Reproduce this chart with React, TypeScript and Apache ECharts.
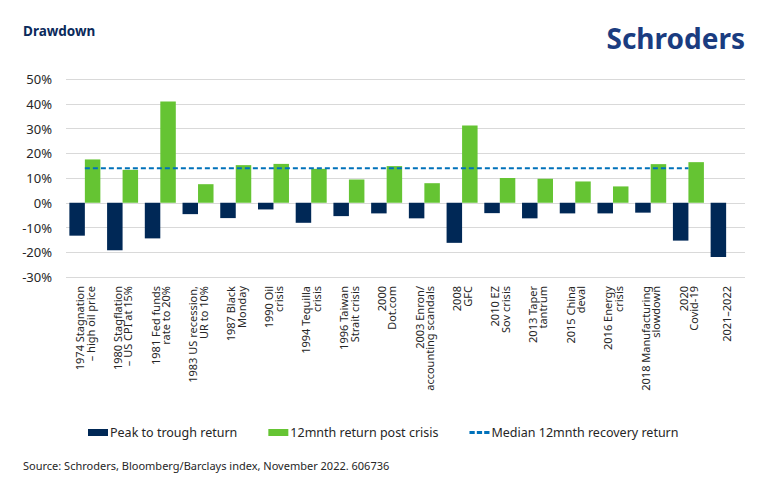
import React, { useEffect, useRef } from "react";
import * as echarts from "echarts";

const categories = [
  "1974 Stagnation\n– high oil price",
  "1980 Stagflation\n– US CPI at 15%",
  "1981 Fed funds\nrate to 20%",
  "1983 US recession,\nUR to 10%",
  "1987 Black\nMonday",
  "1990 Oil\ncrisis",
  "1994 Tequilla\ncrisis",
  "1996 Taiwan\nStrait crisis",
  "2000\nDot.com",
  "2003 Enron/\naccounting scandals",
  "2008\nGFC",
  "2010 EZ\nSov crisis",
  "2013 Taper\ntantrum",
  "2015 China\ndeval",
  "2016 Energy\ncrisis",
  "2018 Manufacturing\nslowdown",
  "2020\nCovid-19",
  "2021–2022",
];

const peakToTrough = [
  -13.3, -19.2, -14.4, -4.6, -6.2, -2.7, -8.1, -5.4, -4.3, -6.3, -16.2, -4.2,
  -6.3, -4.3, -4.3, -4.0, -15.3, -21.9,
];

const postCrisis = [
  17.5, 13.3, 40.9, 7.5, 15.2, 15.7, 13.7, 9.4, 14.8, 7.9, 31.2, 10.0, 9.7, 8.6,
  6.6, 15.6, 16.4, null,
];

const medianRecovery = [
  13.9, 13.9, 13.9, 13.9, 13.9, 13.9, 13.9, 13.9, 13.9, 13.9, 13.9, 13.9, 13.9,
  13.9, 13.9, 13.9, 13.9, null,
];

const yTicks = { min: -30, max: 50, interval: 10 };

const FONT = "'Noto Sans', 'Open Sans', sans-serif";
const NAVY = "#002856";
const GREEN = "#65C433";
const BLUE = "#0071BA";
const TEXT = "#262626";

export default function App() {
  const ref = useRef<HTMLDivElement>(null);

  useEffect(() => {
    if (!ref.current) return;
    const chart = echarts.init(ref.current, null, { renderer: "svg" });
    chart.setOption({
      animation: false,
      textStyle: { fontFamily: FONT },
      grid: { left: 66, right: 25, top: 79, bottom: 215 },
      graphic: [
        {
          type: "text",
          left: 23,
          top: 24,
          style: {
            text: "Drawdown",
            fontFamily: FONT,
            fontWeight: "bold",
            fontSize: 13.5,
            fill: "#0B2A5B",
          },
        },
        {
          type: "text",
          right: 25,
          top: 24,
          style: {
            text: "Schroders",
            fontFamily: FONT,
            fontWeight: "bold",
            fontSize: 28,
            fill: "#1A3C80",
          },
        },
        {
          type: "text",
          left: 23,
          top: 460,
          style: {
            text: "Source: Schroders, Bloomberg/Barclays index, November 2022. 606736",
            fontFamily: FONT,
            fontSize: 11,
            fill: TEXT,
          },
        },
      ],
      legend: {
        left: 83,
        top: 421,
        itemWidth: 20,
        itemHeight: 7,
        itemGap: 31,
        textStyle: { fontFamily: FONT, fontSize: 12.5, color: TEXT, padding: [0, 0, 0, -3] },
        data: [
          { name: "Peak to trough return", icon: "rect" },
          { name: "12mnth return post crisis", icon: "rect" },
          {
            name: "Median 12mnth recovery return",
            icon: "path://M0,0H5V3H0Z M7,0H12V3H7Z M14,0H19V3H14Z",
          },
        ],
      },
      xAxis: {
        type: "category",
        data: categories,
        axisLine: { show: false },
        axisTick: { show: false },
        axisLabel: {
          interval: 0,
          rotate: 90,
          margin: 9,
          fontFamily: FONT,
          fontSize: 11,
          lineHeight: 10.5,
          color: TEXT,
        },
      },
      yAxis: {
        type: "value",
        min: yTicks.min,
        max: yTicks.max,
        interval: yTicks.interval,
        axisLine: { show: false },
        axisTick: { show: false },
        splitLine: { lineStyle: { color: "#D9D9D9", width: 1 } },
        axisLabel: {
          formatter: "{value}%",
          margin: 14,
          fontFamily: FONT,
          fontSize: 13,
          color: TEXT,
        },
      },
      series: [
        {
          name: "Peak to trough return",
          type: "bar",
          data: peakToTrough,
          barWidth: 15.5,
          barGap: "0%",
          itemStyle: { color: NAVY },
        },
        {
          name: "12mnth return post crisis",
          type: "bar",
          data: postCrisis,
          barWidth: 15.5,
          barGap: "0%",
          itemStyle: { color: GREEN },
        },
        {
          name: "Median 12mnth recovery return",
          type: "line",
          data: medianRecovery,
          symbol: "none",
          z: 5,
          lineStyle: { color: BLUE, width: 2, type: [5, 3] },
          itemStyle: { color: BLUE },
        },
      ],
    });
    return () => chart.dispose();
  }, []);

  return <div ref={ref} style={{ width: 770, height: 492, position: "absolute", left: 0, top: 0 }} />;
}
